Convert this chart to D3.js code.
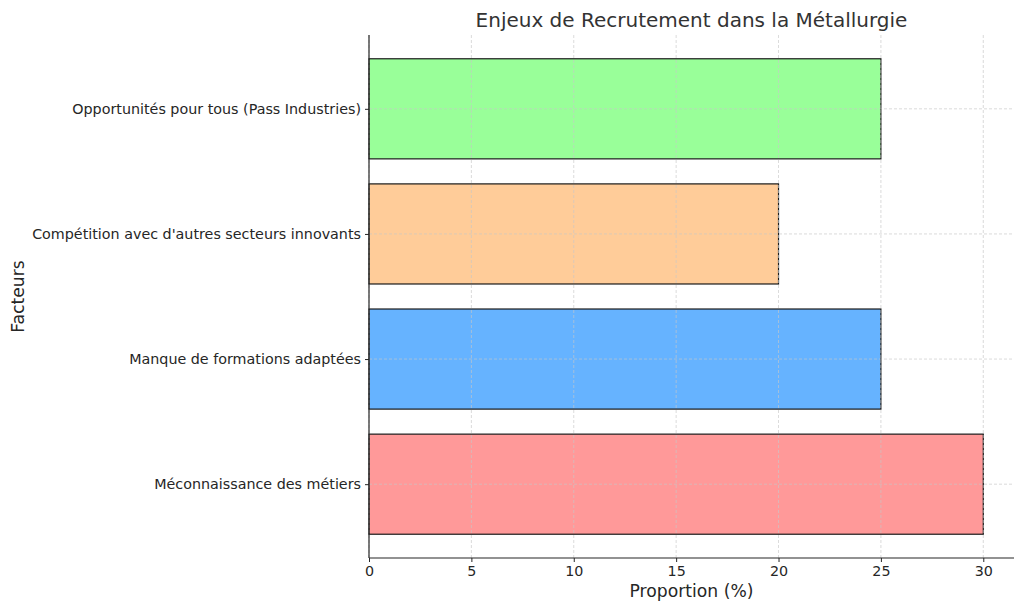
<!DOCTYPE html>
<html><head><meta charset="utf-8">
<script src="https://cdn.jsdelivr.net/npm/d3@7"></script>
<style>body{margin:0;background:#fff}text{font-family:"DejaVu Sans",sans-serif}</style>
</head><body>
<svg id="c" width="1024" height="611"></svg>
<script>
const categories = ["Méconnaissance des métiers","Manque de formations adaptées","Compétition avec d'autres secteurs innovants","Opportunités pour tous (Pass Industries)"];
const values = [30, 25, 20, 25];
const colors = ["#ff9999","#66b3ff","#ffcc99","#99ff99"];
const xTicks = [0,5,10,15,20,25,30];
const title = "Enjeux de Recrutement dans la Métallurgie";
const xLabel = "Proportion (%)";
const yLabel = "Facteurs";

const svg = d3.select("#c");
const L=369, R=1014, T=35, B=558;
const x = d3.scaleLinear().domain([0,31.5]).range([L,R]);
const y = d3.scaleLinear().domain([-0.59,3.59]).range([B,T]);
const bh = y(0)-y(0.8);

// bars
svg.append("g").selectAll("rect").data(values).join("rect")
  .attr("x", x(0)).attr("y",(d,i)=>y(i+0.4)).attr("width",d=>x(d)-x(0)).attr("height",bh)
  .attr("fill",(d,i)=>colors[i]).attr("stroke","#1a1a1a").attr("stroke-width",1.2);

// grid
const g = svg.append("g").attr("stroke","#c8c8c8").attr("stroke-width",0.8).attr("stroke-dasharray","3,2").attr("opacity",0.8);
g.selectAll(".vx").data(xTicks).join("line").attr("x1",d=>x(d)).attr("x2",d=>x(d)).attr("y1",T).attr("y2",B);
g.selectAll(".hy").data(categories).join("line").attr("x1",L).attr("x2",R).attr("y1",(d,i)=>y(i)).attr("y2",(d,i)=>y(i));

// axes
const xa = svg.append("g").attr("transform",`translate(0,${B})`)
  .call(d3.axisBottom(x).tickValues(xTicks).tickSize(4).tickPadding(4).tickFormat(d3.format("d")));
const ya = svg.append("g").attr("transform",`translate(${L},0)`)
  .call(d3.axisLeft(y).tickValues([0,1,2,3]).tickSize(4).tickPadding(4).tickFormat(i=>categories[i]));
[xa,ya].forEach(a=>{
  a.select(".domain").remove();
  a.selectAll("text").attr("font-size",14.3).attr("fill","#262626").style("font-family","DejaVu Sans");
  a.selectAll(".tick line").attr("stroke","#262626").attr("stroke-width",1);
});
svg.append("line").attr("x1",L).attr("x2",R).attr("y1",B).attr("y2",B).attr("stroke","#262626").attr("stroke-width",1.2);
svg.append("line").attr("x1",L).attr("x2",L).attr("y1",T).attr("y2",B).attr("stroke","#262626").attr("stroke-width",1.2);

svg.append("text").attr("x",(L+R)/2).attr("y",27).attr("text-anchor","middle").attr("font-size",20).attr("fill","#333").text(title);
svg.append("text").attr("x",(L+R)/2).attr("y",597).attr("text-anchor","middle").attr("font-size",17.2).attr("fill","#262626").text(xLabel);
svg.append("text").attr("transform",`translate(24,${(T+B)/2}) rotate(-90)`).attr("text-anchor","middle").attr("font-size",17.2).attr("fill","#262626").text(yLabel);
</script>
</body></html>
